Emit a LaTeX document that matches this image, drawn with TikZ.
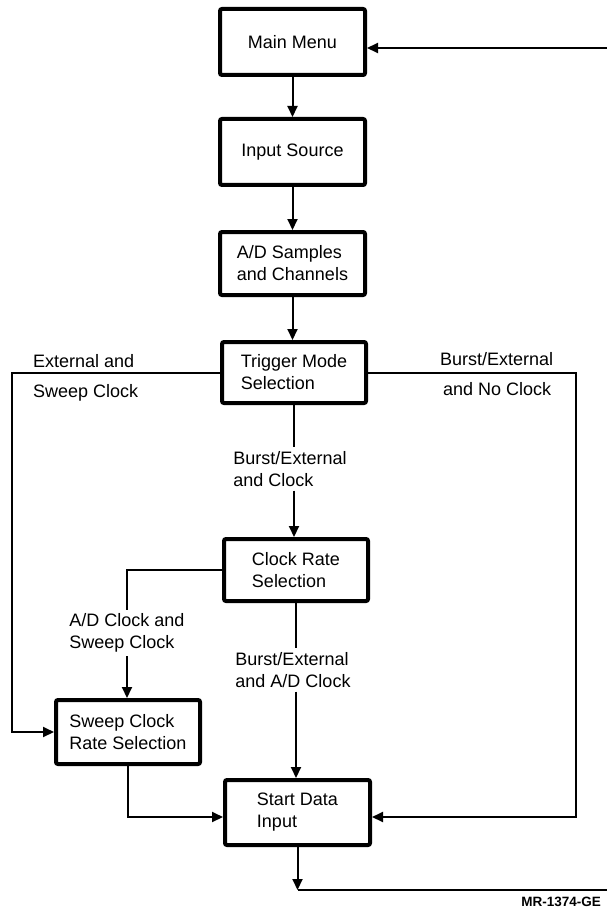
\documentclass[tikz,border=0pt]{standalone}
\usepackage{fontspec}
\setmainfont{Liberation Sans}
\usetikzlibrary{arrows.meta,calc}
\begin{document}
\begin{tikzpicture}[x=1pt,y=-1pt,
 box/.style={draw,line width=4pt,rounded corners=2pt,align=left,inner sep=0pt,font=\fontsize{18}{22}\selectfont},
 lbl/.style={align=left,inner sep=0pt,outer sep=4pt,font=\fontsize{18}{22}\selectfont},
 conn/.style={line width=2pt},
 arr/.style={conn,-{Triangle[length=11pt,width=10pt]}}]
\useasboundingbox (0,0) rectangle (607,912);

\node[box,minimum width=145pt,minimum height=66pt] (main)  at (292.5,42)   {Main Menu};
\node[box,minimum width=145pt,minimum height=66pt] (input) at (292.5,152)  {Input Source};
\node[box,minimum width=145pt,minimum height=63pt] (ad)    at (292.5,263.5){A/D Samples\\and Channels};
\node[box,minimum width=144pt,minimum height=61pt] (trig)  at (294,372.5)  {Trigger Mode\\Selection};
\node[box,minimum width=144pt,minimum height=62pt] (clock) at (296,570)    {Clock Rate\\Selection};
\node[box,minimum width=144pt,minimum height=64pt] (sweep) at (128,732)    {Sweep Clock\\Rate Selection};
\node[box,minimum width=145pt,minimum height=65pt] (start) at (297.5,812.5){Start Data\\Input};

\node[lbl] (l1) at (290,469) {Burst/External\\and Clock};
\node[lbl] (l2) at (293,670) {Burst/External\\and A/D Clock};
\node[lbl] (l3) at (127,633) {A/D Clock and\\Sweep Clock};

\node[lbl,outer sep=0pt,anchor=base west] (e1) at (33,367) {External and};
\node[lbl,outer sep=0pt,anchor=base west] (e2) at (33,397) {Sweep Clock};
\node[lbl,outer sep=0pt,anchor=base west] (b1) at (440,365) {Burst/External};
\node[lbl,outer sep=0pt,anchor=base west] (b2) at (443,395) {and No Clock};

\node[inner sep=0pt,anchor=base east,font=\fontsize{13.5}{16}\selectfont\bfseries] (mr) at (601,906) {MR-1374-GE};

\coordinate (lx) at (12,0);
\coordinate (rx) at (576,0);
\coordinate (tr) at (607,48);
\coordinate (bt) at (297.5,890);
\coordinate (br) at (607,890);

\draw[arr] (main.south) -- (input.north);
\draw[arr] (input.south) -- (ad.north);
\draw[arr] (ad.south) -- (ad.south |- trig.north);
\draw[conn] (trig.south) -- (trig.south |- l1.north);
\draw[arr] (l1.south -| trig.south) -- (trig.south |- clock.north);
\draw[conn] (clock.south) -- (clock.south |- l2.north);
\draw[arr] (l2.south -| clock.south) -- (clock.south |- start.north);
\draw[conn] (clock.west) -| (l3.north);
\draw[arr] (l3.south) -- (l3.south |- sweep.north);
\draw[arr] (trig.west) -- (trig.west -| lx) |- (sweep.west);
\draw[arr] (trig.east) -- (trig.east -| rx) |- ([yshift=-4.5pt]start.east);
\draw[arr] (sweep.south) |- ([yshift=-4.5pt]start.west);
\draw[arr] (start.south) -- (bt);
\draw[conn] (bt) -- (br);
\draw[arr] (tr) -- ([yshift=-6pt]main.east);
\end{tikzpicture}
\end{document}
